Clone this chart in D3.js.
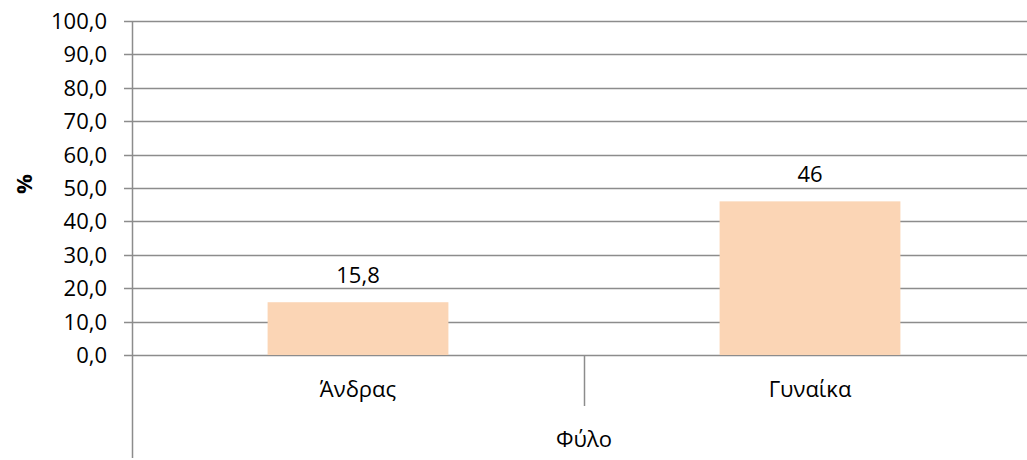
<!DOCTYPE html>
<html>
<head>
<meta charset="utf-8">
<script src="https://d3js.org/d3.v7.min.js"></script>
<style>
  body { margin: 0; background: #fff; }
  text { font-family: "Open Sans", sans-serif; fill: #000; }
</style>
</head>
<body>
<div id="my_dataviz"></div>
<script>

// data
var categories = ["Άνδρας", "Γυναίκα"];
var values = [15.8, 46];
var valueLabels = ["15,8", "46"];
var yTicks = [0, 10, 20, 30, 40, 50, 60, 70, 80, 90, 100];
var axisTitle = "Φύλο";
var yTitle = "%";

var W = 1027, H = 460;
var margin = {top: 21, right: 0, bottom: 105, left: 132},
    width = W - margin.left - margin.right,
    height = H - margin.top - margin.bottom;

var fs = "22px";

var svg = d3.select("#my_dataviz")
  .append("svg")
    .attr("width", W)
    .attr("height", H)
  .append("g")
    .attr("transform", "translate(" + margin.left + "," + margin.top + ")");

var y = d3.scaleLinear().domain([0, 100]).range([height, 0]);

// the plot runs past the right edge of the window; each category gets ~452px
var catW = 452;
var x = d3.scaleBand().domain(categories).range([0, catW * categories.length]).paddingInner(0.6).paddingOuter(0.3);

var grey = "#8c8c8c";

// gridlines + ticks
svg.selectAll("line.grid")
  .data(yTicks)
  .enter().append("line")
    .attr("x1", -8)
    .attr("x2", width)
    .attr("y1", function(d) { return Math.round(y(d)) + 0.5; })
    .attr("y2", function(d) { return Math.round(y(d)) + 0.5; })
    .attr("stroke", grey)
    .attr("stroke-width", 1.5);

// y tick labels
svg.selectAll("text.ytick")
  .data(yTicks)
  .enter().append("text")
    .attr("x", -25)
    .attr("y", function(d) { return y(d); })
    .attr("dy", "0.36em")
    .attr("text-anchor", "end")
    .style("font-size", fs)
    .text(function(d) { return d3.format(".1f")(d).replace(".", ","); });

// bars
svg.selectAll("rect.bar")
  .data(values)
  .enter().append("rect")
    .attr("x", function(d, i) { return x(categories[i]); })
    .attr("width", x.bandwidth())
    .attr("y", function(d) { return y(d); })
    .attr("height", function(d) { return y(0) - y(d); })
    .attr("fill", "#fbd5b5");

// value labels
svg.selectAll("text.val")
  .data(values)
  .enter().append("text")
    .attr("x", function(d, i) { return x(categories[i]) + x.bandwidth() / 2; })
    .attr("y", function(d) { return y(d) - 19; })
    .attr("text-anchor", "middle")
    .style("font-size", fs)
    .text(function(d, i) { return valueLabels[i]; });

// y axis line (runs down through the category area)
svg.append("line")
  .attr("x1", 0.5).attr("x2", 0.5)
  .attr("y1", 0).attr("y2", H - margin.top - 2)
  .attr("stroke", grey).attr("stroke-width", 1.5);

// category divider tick
svg.append("line")
  .attr("x1", catW + 0.5).attr("x2", catW + 0.5)
  .attr("y1", height).attr("y2", height + 51)
  .attr("stroke", grey).attr("stroke-width", 1.5);

// category labels
svg.selectAll("text.cat")
  .data(categories)
  .enter().append("text")
    .attr("x", function(d) { return x(d) + x.bandwidth() / 2; })
    .attr("y", height + 42)
    .attr("text-anchor", "middle")
    .style("font-size", fs)
    .text(function(d) { return d; });

// group title
svg.append("text")
  .attr("x", catW)
  .attr("y", height + 92)
  .attr("text-anchor", "middle")
  .style("font-size", fs)
  .text(axisTitle);

// y title
svg.append("text")
  .attr("transform", "translate(" + (-108) + "," + (height / 2 - 4) + ") rotate(-90)")
  .attr("dy", "0.36em")
  .attr("text-anchor", "middle")
  .style("font-size", fs)
  .style("font-weight", "bold")
  .text(yTitle);

</script>
</body>
</html>
